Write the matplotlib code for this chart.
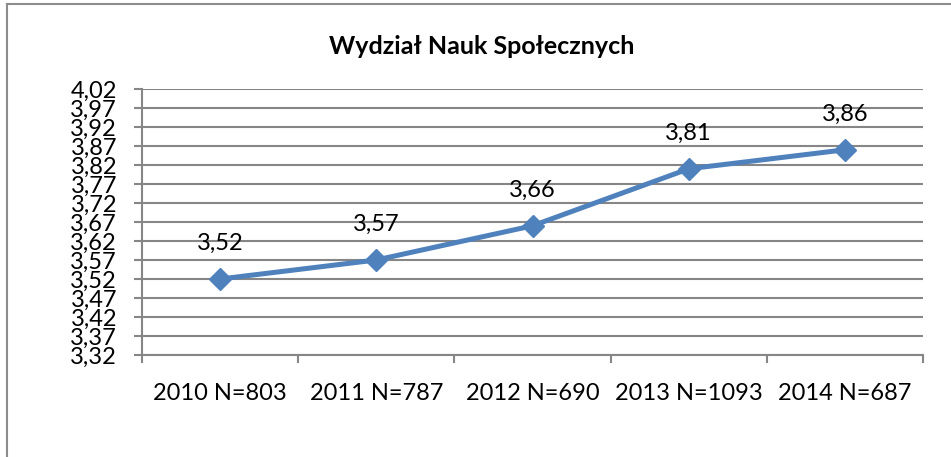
import matplotlib.pyplot as plt
from matplotlib.lines import Line2D
from matplotlib.ticker import FixedLocator

categories = ["2010 N=803", "2011 N=787", "2012 N=690", "2013 N=1093", "2014 N=687"]
values = [3.52, 3.57, 3.66, 3.81, 3.86]
yticks = [3.32, 3.37, 3.42, 3.47, 3.52, 3.57, 3.62, 3.67, 3.72, 3.77,
          3.82, 3.87, 3.92, 3.97, 4.02]

plt.rcParams['font.family'] = ['Lato', 'DejaVu Sans']

W, H = 951, 457
fig = plt.figure(figsize=(W / 100, H / 100), dpi=100)
# plot area in pixels: x 142..923, y 89..355
ax = fig.add_axes([142 / W, 1 - 355 / H, (923 - 142) / W, (355 - 89) / H])

x = list(range(len(categories)))
ax.plot(x, values, color="#4F81BD", lw=3.6, marker="D", markersize=11,
        solid_joinstyle="round", zorder=3)
for xi, v in zip(x, values):
    ax.annotate(("%.2f" % v).replace(".", ","), (xi, v), xytext=(0, 18),
                textcoords="offset points", ha="center", va="bottom",
                fontsize=17, color="black")

ax.set_xlim(-0.5, len(categories) - 0.5)
ax.set_ylim(yticks[0], yticks[-1])
ax.set_yticks(yticks)
ax.set_yticklabels([("%.2f" % t).replace(".", ",") for t in yticks])
ax.set_xticks(x)
ax.set_xticklabels(categories)
ax.xaxis.set_minor_locator(FixedLocator([i - 0.5 for i in range(len(categories) + 1)]))

ax.tick_params(axis="y", length=6, width=1.5, color="#868686", labelsize=17, pad=12)
ax.tick_params(axis="x", which="major", length=0, labelsize=17, pad=20)
ax.tick_params(axis="x", which="minor", length=6, width=1.5, color="#868686")

ax.grid(axis="y", color="#868686", lw=1.5)
ax.set_axisbelow(True)
for s in ["top", "right"]:
    ax.spines[s].set_visible(False)
for s in ["left", "bottom"]:
    ax.spines[s].set_color("#868686")
    ax.spines[s].set_linewidth(1.5)

fig.text(482 / W, 1 - 46 / H, "Wydział Nauk Społecznych", ha="center", va="center",
         fontsize=18, fontweight="bold")

# chart frame (only top and left edges visible)
fig.add_artist(Line2D([7 / W, 1], [1 - 4 / H, 1 - 4 / H], transform=fig.transFigure,
                      color="#8C8C8C", lw=1.5))
fig.add_artist(Line2D([7 / W, 7 / W], [0, 1 - 4 / H], transform=fig.transFigure,
                      color="#8C8C8C", lw=1.5))

fig.savefig("out.png", dpi=100)
